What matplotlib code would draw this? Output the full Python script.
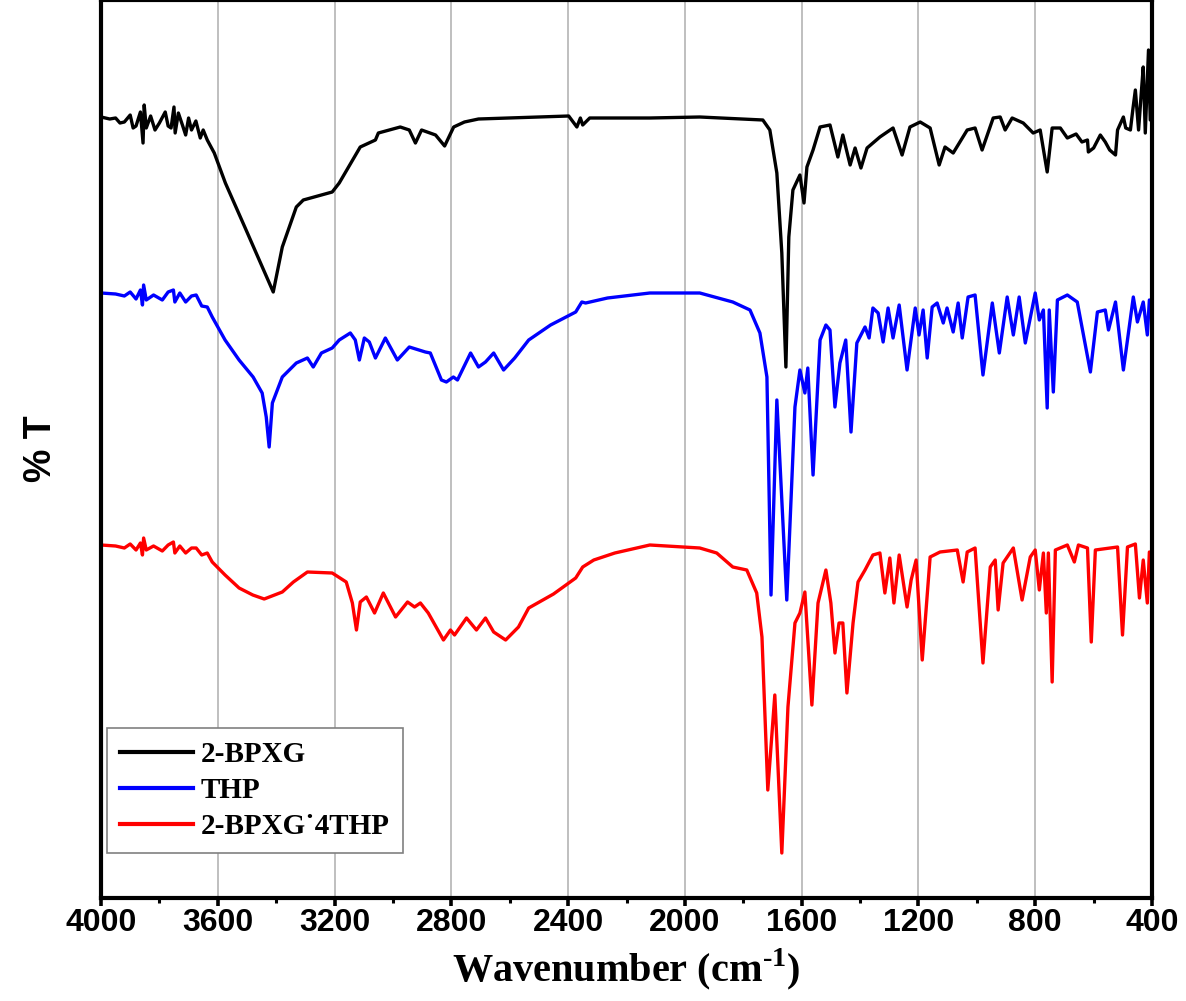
import matplotlib
matplotlib.use("Agg")
import matplotlib.pyplot as plt
from matplotlib.ticker import MultipleLocator

plt.rcParams["mathtext.fontset"] = "custom"
plt.rcParams["mathtext.rm"] = "Liberation Serif:bold"
plt.rcParams["mathtext.bf"] = "Liberation Serif:bold"

# ---- data (wavenumber cm-1, %T arbitrary units) ----
bpxg_wn = [4000, 3970, 3950, 3935, 3920, 3900, 3890, 3880, 3865, 3856, 3852, 3845, 3830, 3815, 3800,
           3780, 3770, 3760, 3750, 3746, 3735, 3720, 3710, 3700, 3690, 3675, 3660, 3650, 3636, 3612,
           3574, 3503, 3410, 3379, 3331, 3307, 3208, 3184, 3112, 3060, 3050, 2975, 2944, 2923, 2902,
           2854, 2823, 2792, 2755, 2707, 2398, 2370, 2358, 2350, 2326, 2120, 1949, 1733, 1709, 1685,
           1668, 1654, 1644, 1630, 1606, 1592, 1582, 1561, 1537, 1503, 1476, 1459, 1434, 1417, 1397,
           1376, 1332, 1287, 1256, 1229, 1194, 1160, 1129, 1109, 1081, 1033, 1006, 982, 944, 920, 903,
           879, 841, 807, 783, 759, 742, 714, 690, 660, 640, 621, 618, 600, 577, 560, 545, 525, 518,
           498, 490, 474, 465, 457, 446, 438, 430, 423, 412, 406, 400]
bpxg_t = [78.1, 77.9, 78.0, 77.5, 77.6, 78.3, 77.0, 77.2, 78.6, 75.5, 79.3, 77.0, 78.2, 76.8, 77.5,
          78.6, 77.2, 77.0, 79.1, 76.5, 78.5, 77.2, 76.3, 78.0, 76.8, 77.7, 76.0, 76.8, 75.8, 74.5,
          71.5, 66.8, 60.6, 65.1, 69.1, 69.8, 70.6, 71.5, 75.1, 75.8, 76.5, 77.1, 76.8, 75.5, 76.8,
          76.3, 75.2, 77.1, 77.6, 77.9, 78.2, 77.1, 78.0, 77.3, 78.0, 78.0, 78.1, 77.8, 76.8, 72.5,
          64.5, 53.1, 66.1, 70.8, 72.3, 69.5, 73.1, 74.8, 77.1, 77.3, 74.1, 76.3, 73.3, 75.0, 73.0,
          75.0, 76.1, 77.0, 74.3, 77.1, 77.6, 77.0, 73.3, 75.1, 74.5, 76.8, 77.0, 74.8, 78.0, 78.1, 76.8,
          78.0, 77.5, 76.5, 76.8, 72.6, 77.0, 77.0, 76.0, 76.4, 75.6, 75.8, 74.6, 75.0, 76.3, 75.6,
          74.8, 74.3, 76.8, 78.1, 77.0, 76.8, 79.0, 80.8, 76.8, 80.0, 83.1, 76.5, 84.8, 77.8, 85.0]

thp_wn = [4000, 3950, 3920, 3900, 3880, 3865, 3858, 3854, 3845, 3820, 3790, 3770, 3752, 3747, 3730,
          3710, 3690, 3674, 3655, 3636, 3619, 3575, 3527, 3479, 3448, 3434, 3424, 3413, 3379, 3331,
          3293, 3273, 3245, 3208, 3184, 3146, 3129, 3115, 3098, 3081, 3060, 3026, 2985, 2944, 2889,
          2872, 2834, 2817, 2793, 2779, 2734, 2707, 2683, 2655, 2621, 2583, 2535, 2460, 2374, 2353,
          2340, 2265, 2120, 1949, 1836, 1777, 1743, 1719, 1705, 1685, 1651, 1623, 1606, 1589, 1579,
          1561, 1537, 1517, 1503, 1486, 1469, 1449, 1431, 1411, 1383, 1369, 1356, 1338, 1321, 1304,
          1287, 1266, 1239, 1211, 1198, 1184, 1170, 1153, 1136, 1115, 1102, 1081, 1064, 1050, 1030,
          1006, 979, 947, 923, 896, 875, 855, 834, 800, 786, 772, 759, 752, 738, 724, 690, 656, 611,
          587, 560, 549, 525, 498, 464, 450, 430, 416, 409, 400]
thp_t = [60.5, 60.4, 60.2, 60.6, 59.9, 60.8, 59.3, 61.3, 59.8, 60.3, 59.8, 60.6, 60.8, 59.6, 60.5,
         59.6, 60.2, 60.3, 59.2, 59.1, 58.1, 55.8, 53.8, 52.1, 50.5, 48.1, 45.1, 49.5, 52.1, 53.5,
         54.0, 53.1, 54.5, 55.0, 55.8, 56.5, 55.8, 53.8, 56.0, 55.6, 54.0, 56.0, 53.8, 55.1, 54.6,
         54.5, 51.8, 51.6, 52.1, 51.8, 54.5, 53.1, 53.6, 54.5, 52.8, 54.0, 55.8, 57.3, 58.6, 59.6,
         59.5, 60.0, 60.5, 60.5, 59.6, 58.8, 56.5, 52.1, 30.3, 49.8, 29.8, 49.1, 52.8, 50.5, 53.0,
         42.3, 55.8, 57.3, 56.8, 49.1, 53.5, 55.8, 46.6, 55.5, 57.1, 56.0, 59.0, 58.5, 55.6, 59.0,
         56.0, 59.3, 52.8, 59.0, 56.3, 58.8, 54.0, 59.1, 59.5, 57.5, 59.0, 56.6, 59.5, 56.0, 60.1,
         60.3, 52.3, 59.5, 54.5, 60.1, 56.3, 60.1, 55.5, 60.5, 57.8, 58.8, 49.0, 58.8, 50.6, 59.8, 60.3, 59.6, 52.6,
         58.6, 58.8, 56.8, 59.6, 52.8, 60.1, 57.6, 59.6, 56.3, 59.8, 59.5]

cocr_wn = [4000, 3950, 3920, 3900, 3880, 3865, 3858, 3854, 3845, 3820, 3790, 3770, 3752, 3747, 3730,
           3710, 3690, 3674, 3655, 3636, 3619, 3575, 3527, 3480, 3441, 3379, 3341, 3293, 3208, 3160,
           3139, 3125, 3112, 3091, 3063, 3033, 2991, 2950, 2926, 2906, 2879, 2827, 2803, 2789, 2748,
           2714, 2683, 2655, 2614, 2570, 2535, 2450, 2398, 2374, 2350, 2312, 2240, 2120, 1949, 1891,
           1836, 1788, 1754, 1736, 1716, 1692, 1668, 1647, 1623, 1606, 1589, 1565, 1544, 1517, 1500,
           1486, 1472, 1459, 1445, 1424, 1407, 1383, 1356, 1332, 1315, 1298, 1284, 1266, 1239, 1225,
           1208, 1187, 1160, 1126, 1067, 1047, 1033, 1006, 979, 954, 937, 927, 910, 875, 845, 817,
           800, 786, 772, 762, 755, 742, 731, 690, 666, 652, 621, 608, 594, 518, 501, 484, 457, 443,
           430, 416, 409, 400]
cocr_t = [35.3, 35.2, 35.0, 35.4, 34.8, 35.5, 34.3, 36.0, 34.8, 35.2, 34.7, 35.3, 35.6, 34.5, 35.2,
          34.5, 35.0, 35.0, 34.3, 34.5, 33.6, 32.3, 31.0, 30.3, 29.9, 30.6, 31.6, 32.6, 32.5, 31.6,
          29.5, 26.8, 29.6, 30.1, 28.5, 30.5, 28.1, 29.6, 29.1, 29.5, 28.5, 25.8, 26.8, 26.3, 28.0,
          26.8, 28.0, 26.6, 25.8, 27.1, 29.0, 30.4, 31.5, 32.0, 33.1, 33.8, 34.5, 35.3, 35.0, 34.5,
          33.1, 32.8, 30.5, 26.1, 10.8, 20.3, 4.5, 19.1, 27.5, 28.5, 30.6, 19.3, 29.5, 32.8, 29.5,
          24.5, 27.5, 27.5, 20.5, 27.5, 31.6, 32.8, 34.3, 34.5, 30.5, 34.0, 29.5, 34.3, 29.1, 31.8,
          33.8, 23.8, 34.1, 34.6, 34.8, 31.6, 34.6, 35.0, 23.5, 33.1, 33.8, 28.8, 33.5, 35.0, 29.8, 34.1,
          34.8, 30.8, 34.5, 28.5, 34.5, 21.6, 34.8, 35.3, 33.6, 35.3, 35.0, 25.6, 34.8, 35.1, 26.3, 35.1, 35.4, 30.0,
          33.8, 29.5, 34.6, 34.5]

series_names = ["2-BPXG", "THP", "2-BPXG\u02d94THP"]
series_colors = ["black", "#0000ff", "#ff0000"]
x_ticks = [4000, 3600, 3200, 2800, 2400, 2000, 1600, 1200, 800, 400]

# ---- figure ----
fig = plt.figure(figsize=(11.86, 10.01), dpi=100)
ax = fig.add_axes([101 / 1186, 103 / 1001, 1051 / 1186, 898 / 1001])

for wn, t, name, col in zip([bpxg_wn, thp_wn, cocr_wn], [bpxg_t, thp_t, cocr_t],
                            series_names, series_colors):
    ax.plot(wn, t, color=col, lw=2.4, label=name, solid_joinstyle="round")

ax.set_xlim(4000, 400)
ax.set_ylim(0, 89.8)
ax.set_xticks(x_ticks)
ax.xaxis.set_minor_locator(MultipleLocator(200))
ax.set_yticks([])
ax.grid(axis="x", which="major", color="#b4b4b4", lw=1.2)
ax.set_axisbelow(True)

for s in ax.spines.values():
    s.set_linewidth(3)
ax.tick_params(axis="x", which="major", direction="out", length=6, width=2.6, pad=1,
               labelsize=23, top=False)
ax.tick_params(axis="x", which="minor", direction="out", length=3.5, width=2.2, top=False)
for lbl in ax.get_xticklabels():
    lbl.set_fontfamily("Liberation Sans")
    lbl.set_fontweight("bold")

ax.set_xlabel("Wavenumber (cm$^{\u2010\\mathrm{1}}$)", fontsize=29, fontweight="bold",
              family="Liberation Serif", labelpad=6)
ax.set_ylabel("% T", fontsize=27, fontweight="bold", family="Liberation Sans", labelpad=30)

leg = ax.legend(loc="lower left", bbox_to_anchor=(0.006, 0.05), borderaxespad=0,
                prop={"family": "Liberation Serif", "weight": "bold", "size": 21},
                handlelength=2.5, handletextpad=0.25, labelspacing=0.3, borderpad=0.45,
                fancybox=False, framealpha=1, edgecolor="#808080")
leg.get_frame().set_linewidth(1.2)
for line in leg.get_lines():
    line.set_linewidth(3)

fig.savefig("out.png", dpi=100)
